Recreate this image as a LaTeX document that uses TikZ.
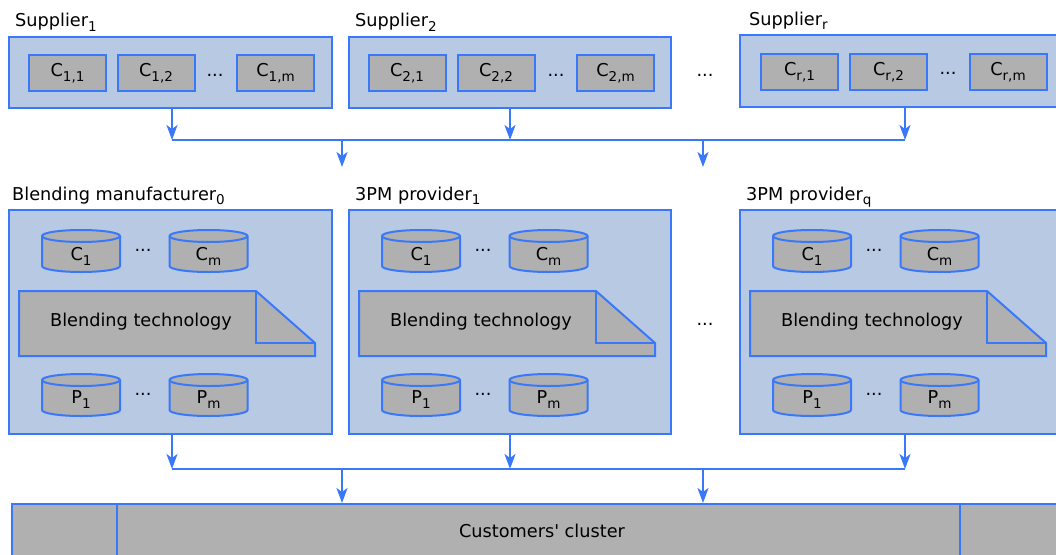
\documentclass[tikz,border=0pt]{standalone}
\usepackage{fontspec}
\setmainfont{DejaVu Sans}[Ligatures=TeXOff]
\usetikzlibrary{arrows.meta}

\definecolor{panelfill}{RGB}{184,201,227}
\definecolor{edgeblue}{RGB}{58,120,250}
\definecolor{itemgray}{RGB}{176,176,176}

% lowered, smaller index text
\newcommand\sub[1]{\raisebox{-0.28em}{\fontsize{13.5}{14}\selectfont #1}}

% storage drum: name, centre x, centre y (pixels, downwards), label
\newcommand\drum[4]{%
  \path[draw=edgeblue, fill=itemgray, line width=2pt]
    (#2-39,-#3+15) -- (#2-39,-#3-15)
    arc[start angle=180, end angle=360, x radius=39, y radius=6]
    -- (#2+39,-#3+15)
    arc[start angle=0, end angle=180, x radius=39, y radius=6] -- cycle;
  \draw[edgeblue, line width=2pt] (#2-39,-#3+15)
    arc[start angle=180, end angle=360, x radius=39, y radius=6];
  \node[inner sep=0] (#1) at (#2,-#3-5) {#4};
}

% technology sheet with folded corner: name, left x of enclosing panel
\newcommand\techsheet[2]{%
  \path[draw=edgeblue, fill=itemgray, line width=2pt, line join=miter]
    (#2+10,-291) -- (#2+247,-291) -- (#2+306,-343) -- (#2+306,-356)
    -- (#2+10,-356) -- cycle;
  \draw[edgeblue, line width=2pt] (#2+247,-291) -- (#2+247,-343) -- (#2+306,-343);
  \node[inner sep=0] (#1) at (#2+132,-322) {Blending technology};
}

\begin{document}
\begin{tikzpicture}[x=1pt, y=1pt,
  font=\fontsize{17.7}{20}\selectfont,
  panel/.style={draw=edgeblue, fill=panelfill, line width=2pt, inner sep=0},
  item/.style={draw=edgeblue, fill=itemgray, line width=2pt,
               minimum width=77, minimum height=36, inner sep=0},
  lbl/.style={anchor=base west, inner sep=0},
  flow/.style={draw=edgeblue, line width=2pt},
  arr/.style={flow, -{Stealth[length=15pt, width=11pt, inset=4pt]}}]

\useasboundingbox (0,0) rectangle (1056,-554);
\clip (0,0) rectangle (1056,-554);

% ---- suppliers ----
\node[panel, minimum width=323, minimum height=71] (s1) at (170.5,-72.5) {};
\node[panel, minimum width=322, minimum height=71] (s2) at (510,-72.5) {};
\node[panel, minimum width=330, minimum height=72] (sr) at (905,-71) {};

\node[lbl] (s1lbl) at (15,-27) {Supplier\sub{1}};
\node[lbl] (s2lbl) at (355,-27) {Supplier\sub{2}};
\node[lbl] (srlbl) at (749,-25) {Supplier\sub{r}};

\node[item] (c11) at (67.5,-73) {C\sub{1,1}};
\node[item] (c12) at (156,-73) {C\sub{1,2}};
\node (c1d) at (215,-75) {...};
\node[item] (c1m) at (275.5,-73) {C\sub{1,m}};

\node[item] (c21) at (407,-73) {C\sub{2,1}};
\node[item] (c22) at (496,-73) {C\sub{2,2}};
\node (c2d) at (556,-75) {...};
\node[item] (c2m) at (615.5,-73) {C\sub{2,m}};

\node[item] (cr1) at (799.5,-72) {C\sub{r,1}};
\node[item] (cr2) at (888.5,-72) {C\sub{r,2}};
\node (crd) at (948,-73) {...};
\node[item] (crm) at (1008,-72) {C\sub{r,m}};

\node (sdots) at (705,-75) {...};

% ---- supply bus ----
\coordinate (bus1) at (0,-140);
\coordinate (a1) at (s1.south -| 172,0);
\draw[arr] (a1) -- (a1 |- bus1);
\draw[arr] (s2.south) -- (s2.south |- bus1);
\draw[arr] (sr.south) -- (sr.south |- bus1);
\draw[flow] (a1 |- bus1) -- (sr.south |- bus1);
\coordinate (j1) at (342,-140);
\coordinate (j2) at (703,-140);
\coordinate (t1) at (342,-167);
\coordinate (t2) at (703,-167);
\draw[arr] (j1) -- (t1);
\draw[arr] (j2) -- (t2);

% ---- blending sites ----
\node[panel, minimum width=323, minimum height=224] (bm) at (170.5,-322) {};
\node[panel, minimum width=322, minimum height=224] (p1) at (510,-322) {};
\node[panel, minimum width=330, minimum height=224] (pq) at (905,-322) {};

\node[lbl] (bmlbl) at (12,-200) {Blending manufacturer\sub{0}};
\node[lbl] (p1lbl) at (355,-200) {3PM provider\sub{1}};
\node[lbl] (pqlbl) at (746,-200) {3PM provider\sub{q}};

\foreach \x/\n in {9/bm, 349/p1, 740/pq}{
  \drum{\n c1}{\x+72}{251}{C\sub{1}}
  \drum{\n cm}{\x+199.5}{251}{C\sub{m}}
  \node (\n cd) at (\x+134,-250) {...};
  \techsheet{\n tech}{\x}
  \drum{\n p1}{\x+72}{395}{P\sub{1}}
  \drum{\n pm}{\x+199.5}{395}{P\sub{m}}
  \node (\n pd) at (\x+134,-394) {...};
}

\node (pdots) at (705,-324) {...};

% ---- delivery bus ----
\coordinate (bus2) at (0,-469);
\coordinate (a2) at (bm.south -| 172,0);
\draw[arr] (a2) -- (a2 |- bus2);
\draw[arr] (p1.south) -- (p1.south |- bus2);
\draw[arr] (pq.south) -- (pq.south |- bus2);
\draw[flow] (a2 |- bus2) -- (pq.south |- bus2);
\coordinate (k1) at (342,-469);
\coordinate (k2) at (703,-469);

% ---- customers ----
\node[draw=edgeblue, fill=itemgray, line width=2pt, inner sep=0,
      minimum width=1060, minimum height=54, anchor=north west]
      (cust) at (11,-503) {Customers' cluster};
\draw[flow] (cust.north -| 117,0) -- (cust.south -| 117,0);
\draw[flow] (cust.north -| 960,0) -- (cust.south -| 960,0);

\draw[arr] (k1) -- (k1 |- cust.north);
\draw[arr] (k2) -- (k2 |- cust.north);

\end{tikzpicture}
\end{document}
